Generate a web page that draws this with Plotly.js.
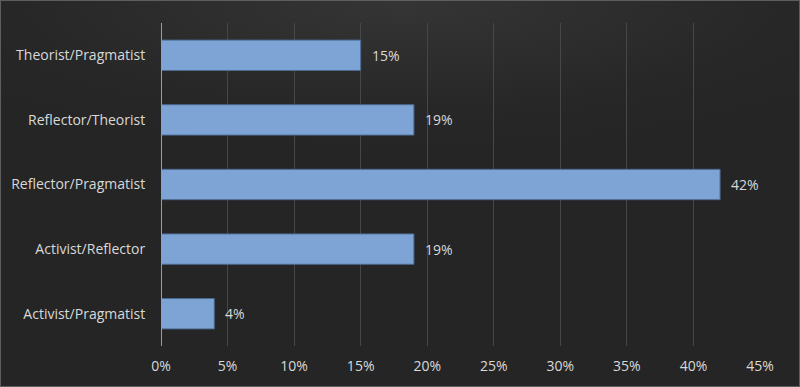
<!DOCTYPE html>
<html><head><meta charset="utf-8">
<script src="https://cdn.plot.ly/plotly-3.0.1.min.js"></script>
<style>
html,body{margin:0;padding:0;}
body{width:800px;height:387px;overflow:hidden;}
#wrap{position:absolute;left:0;top:0;width:798px;height:385px;border:1px solid #5e5e5e;
background:radial-gradient(ellipse 70% 40% at 50% 0%, #353535 0%, #272727 70%, #252525 100%);}
#chart{position:absolute;left:-1px;top:-1px;width:800px;height:387px;}
</style></head>
<body><div id="wrap"></div><div id="chart"></div>
<script>
const categories = ["Theorist/Pragmatist","Reflector/Theorist","Reflector/Pragmatist","Activist/Reflector","Activist/Pragmatist"];
const values = [0.15, 0.19, 0.42, 0.19, 0.04];
const valueLabels = ["15%","19%","42%","19%","4%"];

const fontFam = '"Open Sans", "Noto Sans", sans-serif';
const trace = {
  type:'bar', orientation:'h', x:values, y:categories,
  marker:{color:'#7da4d4', line:{color:'#4d6a93', width:1}},
  hoverinfo:'none'
};
const annotations = values.map((v,i)=>({
  x:v, y:categories[i], xref:'x', yref:'y', text:valueLabels[i],
  showarrow:false, xanchor:'left', xshift:9,
  font:{family:fontFam, size:14, color:'#d9d9d9'}
}));
const layout = {
  width:800, height:387,
  margin:{l:162, r:39, t:24, b:40},
  paper_bgcolor:'rgba(0,0,0,0)', plot_bgcolor:'rgba(0,0,0,0)',
  showlegend:false, bargap:0.53,
  font:{family:fontFam, size:14, color:'#d9d9d9'},
  xaxis:{range:[0,0.45], dtick:0.05, tick0:0, tickformat:'.0%',
    showgrid:true, gridcolor:'#474747', gridwidth:1,
    zeroline:false, showline:false,
    ticks:'outside', ticklen:7, tickcolor:'rgba(0,0,0,0)',
    tickfont:{family:fontFam, size:14, color:'#d9d9d9'}, fixedrange:true},
  yaxis:{autorange:'reversed', type:'category',
    showgrid:false, zeroline:false,
    showline:false,
    ticks:'outside', ticklen:12, tickcolor:'rgba(0,0,0,0)',
    tickfont:{family:fontFam, size:14, color:'#d9d9d9'}, fixedrange:true},
  shapes:[{type:'line', xref:'x', yref:'paper', x0:0, x1:0, y0:0, y1:1,
    line:{color:'#9c9c9c', width:2}}],
  annotations:annotations
};
Plotly.newPlot('chart',[trace],layout,{displayModeBar:false, staticPlot:true});
</script></body></html>
